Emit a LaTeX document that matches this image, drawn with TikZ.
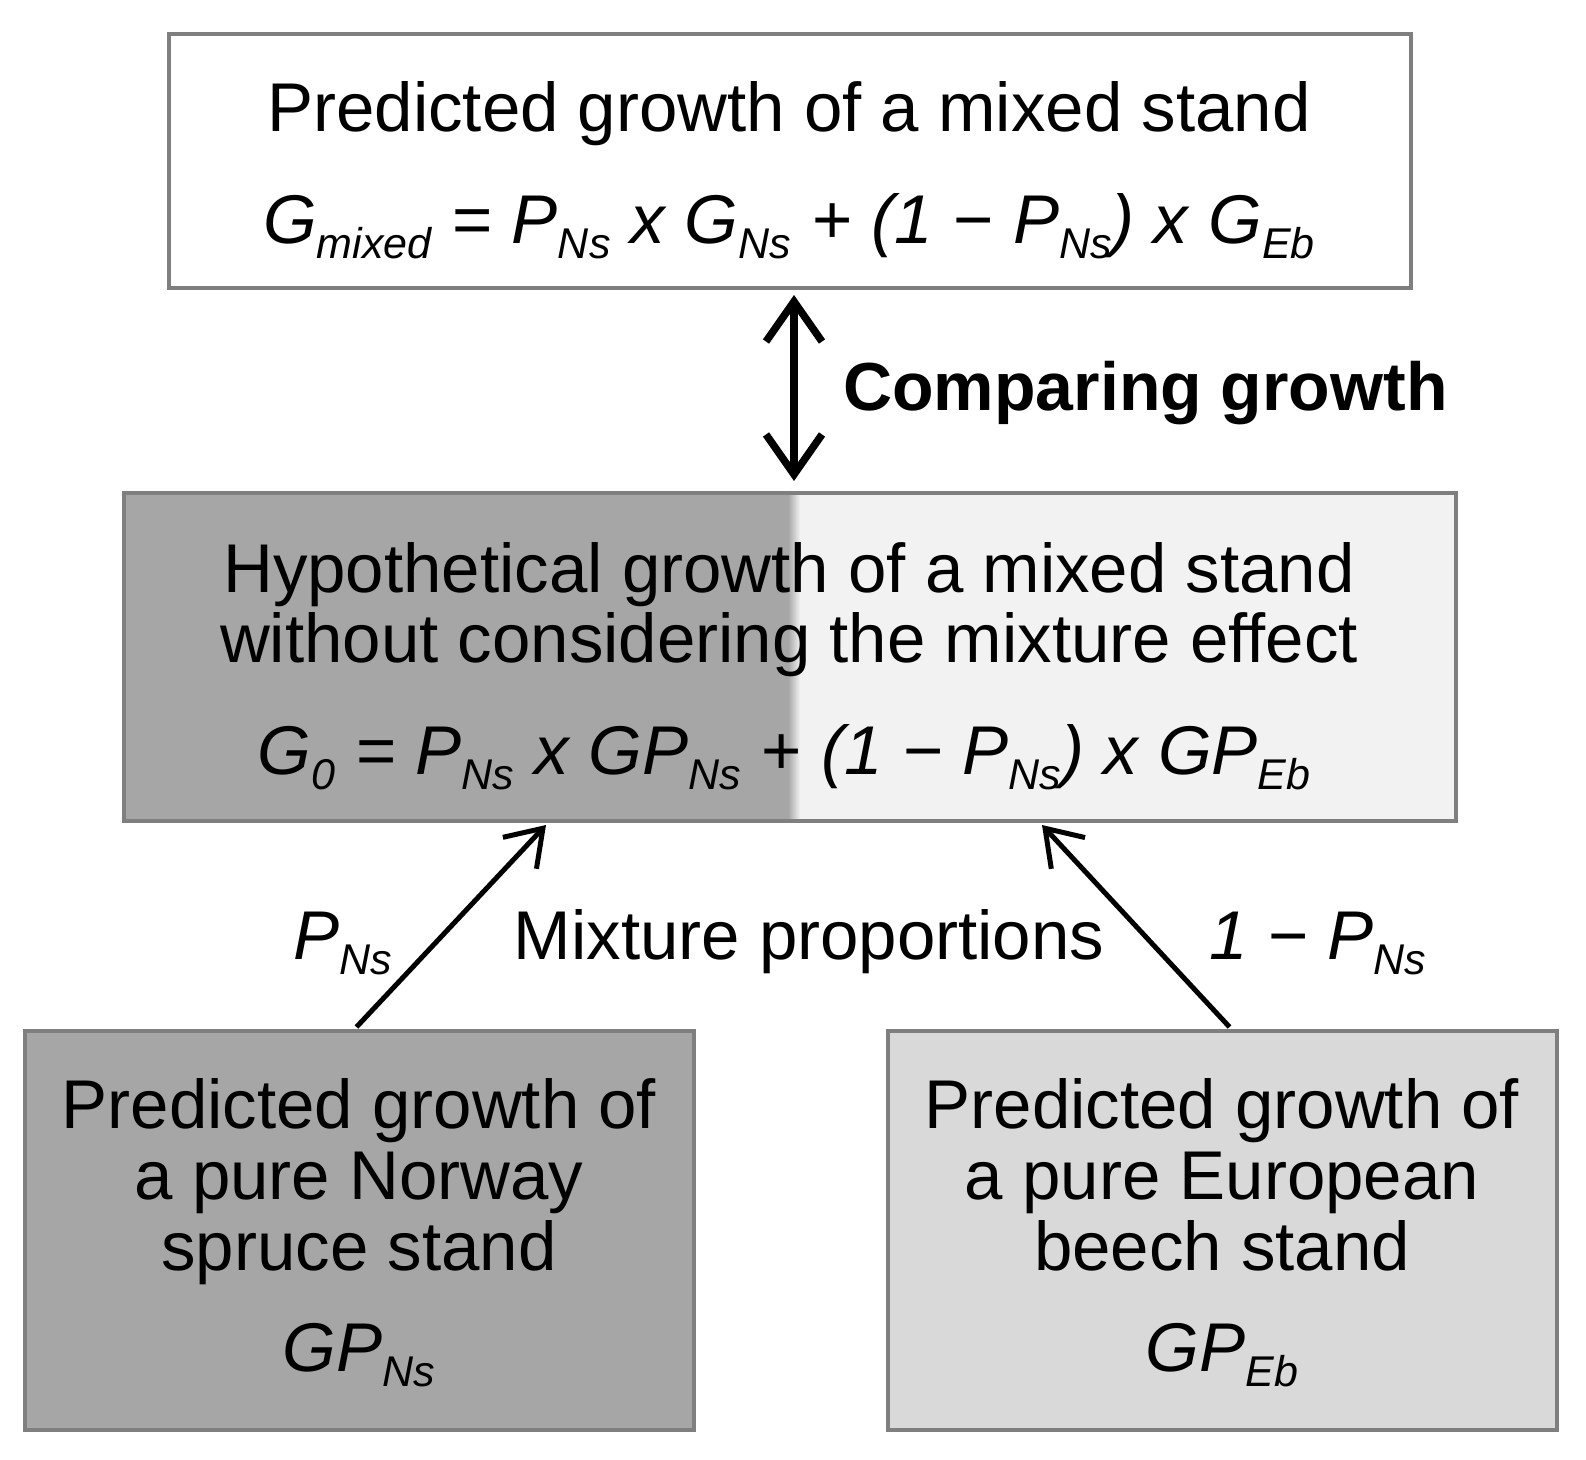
\documentclass[tikz,border=0pt]{standalone}
\usepackage{fontspec}
\setmainfont{Liberation Sans}
\usetikzlibrary{arrows.meta}
\definecolor{dk}{HTML}{A6A6A6}
\definecolor{lt}{HTML}{F2F2F2}
\definecolor{md}{HTML}{D9D9D9}
\definecolor{bd}{HTML}{7F7F7F}
\newcommand\subs[1]{\raisebox{-0.22em}{\fontsize{43}{43}\selectfont #1}}
\newcommand\gp{\hspace{0.29em}}
\begin{document}
\begin{tikzpicture}[x=1pt,y=-1pt,
  box/.style={draw=bd,line width=4pt,inner sep=0pt},
  txt/.style={inner sep=0pt,anchor=base,font=\fontsize{69}{72}\selectfont},
  arr/.style={line width=5pt,-{Straight Barb[length=34pt,width=46pt]}},
  darr/.style={line width=7.5pt,{Straight Barb[length=40pt,width=56pt]}-{Straight Barb[length=40pt,width=56pt]}}]
\useasboundingbox (0,0) rectangle (1586,1459);
\fill[white] (0,0) rectangle (1586,1459);
% top box
\node[box,fill=white,minimum width=1242pt,minimum height=254pt] (top) at (790,161) {};
\node[txt] (t1) at (789,131) {Predicted growth of a mixed stand};
\node[txt] (t2) at (789,243) {\itshape G\subs{mixed}\gp=\gp P\subs{Ns}\gp x\gp G\subs{Ns}\gp+\gp(1\gp−\gp P\subs{Ns}) x\gp G\subs{Eb}};
% middle box
\fill[dk] (124,493) rectangle (794,821);
\fill[lt] (794,493) rectangle (1456,821);
\shade[left color=dk,right color=lt] (788,493) rectangle (800,821);
\node[box,minimum width=1332pt,minimum height=328pt] (mid) at (790,657) {};
\node[txt] (m1) at (789,592) {Hypothetical growth of a mixed stand};
\node[txt] (m2) at (789,662) {without considering the mixture effect};
\node[txt] (m3) at (784,774) {\itshape G\subs{0}\gp=\gp P\subs{Ns}\gp x\gp GP\subs{Ns}\gp+\gp(1\gp−\gp P\subs{Ns}) x\gp GP\subs{Eb}};
% bottom boxes
\node[box,fill=dk,minimum width=669pt,minimum height=399pt] (bl) at (359.5,1230.5) {};
\node[txt] (l1) at (359,1128) {Predicted growth of};
\node[txt] (l2) at (359,1199) {a pure Norway};
\node[txt] (l3) at (359,1270) {spruce stand};
\node[txt] (l4) at (359,1371) {\itshape GP\subs{Ns}};
\node[box,fill=md,minimum width=669pt,minimum height=399pt] (br) at (1222.5,1230.5) {};
\node[txt] (r1) at (1222,1128) {Predicted growth of};
\node[txt] (r2) at (1222,1199) {a pure European};
\node[txt] (r3) at (1222,1270) {beech stand};
\node[txt] (r4) at (1222,1371) {\itshape GP\subs{Eb}};
% connectors
\draw[darr] ([xshift=4pt,yshift=-5pt]top.south) -- ([xshift=4pt,yshift=10pt]mid.north);
\node[txt,anchor=base west,font=\fontsize{68}{72}\selectfont\bfseries] (cmp) at (843,410) {Comparing growth};
\draw[arr] ([xshift=-3pt,yshift=2pt]bl.north) -- ([xshift=-244pt,yshift=-2pt]mid.south);
\draw[arr] ([xshift=7pt,yshift=2pt]br.north) -- ([xshift=252pt,yshift=-2pt]mid.south);
\node[txt] (mix) at (809,959) {Mixture proportions};
\node[txt,anchor=base west] (pl) at (293,959) {\itshape P\subs{Ns}};
\node[txt,anchor=base west] (pr) at (1209,959) {\itshape 1\gp−\gp P\subs{Ns}};
\end{tikzpicture}
\end{document}
